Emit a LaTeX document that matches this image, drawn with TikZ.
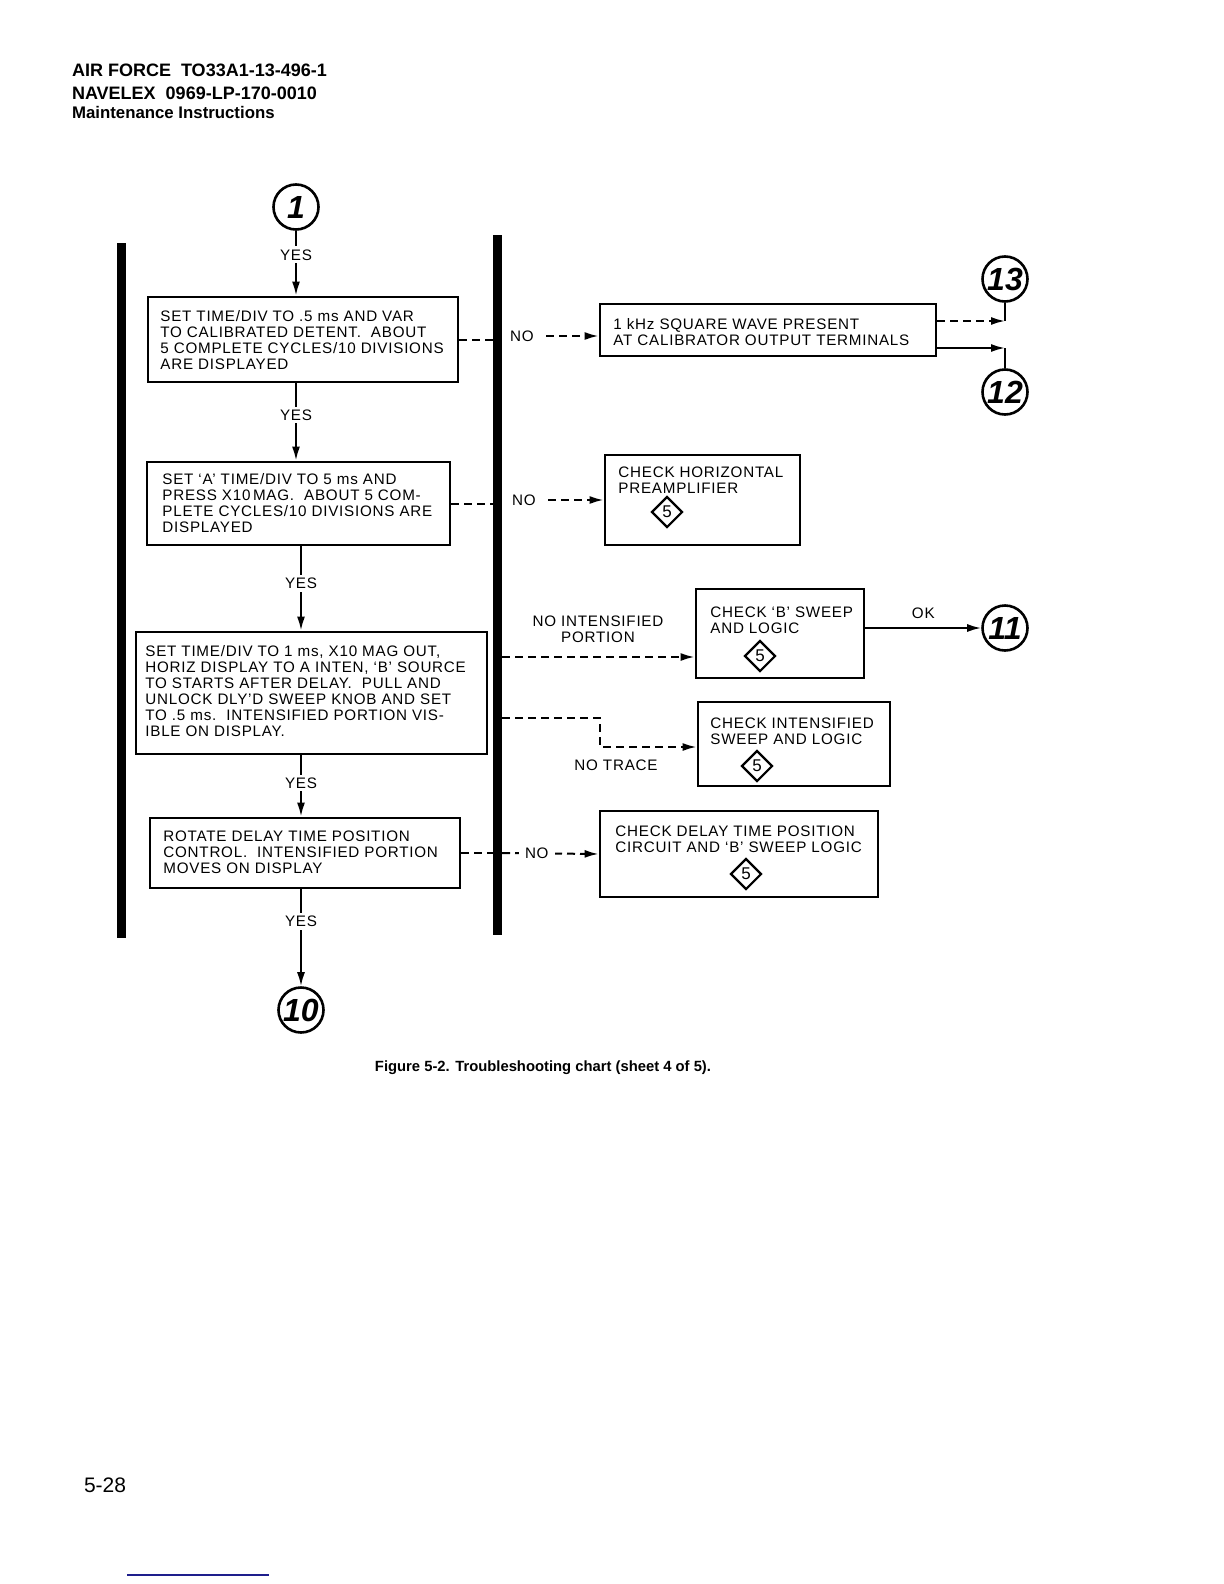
\documentclass[tikz,border=0pt]{standalone}
\usepackage{fontspec}
\setmainfont{Liberation Sans}
\newfontfamily\chartfont{Liberation Sans}[LetterSpace=5]
\usetikzlibrary{shapes.geometric,arrows.meta,positioning}
\definecolor{rulenavy}{RGB}{30,30,140}

\begin{document}
\begin{tikzpicture}[x=0.5pt,y=-0.5pt,
  box/.style={draw,line width=1.4pt,inner sep=0pt},
  txt/.style={align=left,inner sep=0pt,font=\chartfont\fontsize{7.6}{8}\selectfont},
  yes/.style={fill=white,inner sep=1.5pt,font=\chartfont\fontsize{7.6}{8}\selectfont},
  ref/.style={circle,draw,line width=1.3pt,minimum size=22.5pt,inner sep=0pt,font=\bfseries\itshape\fontsize{16}{16}\selectfont},
  sub/.style={diamond,draw,line width=1.1pt,minimum size=15.5pt,inner sep=0pt,font=\fontsize{8.5}{8.5}\selectfont},
  flow/.style={line width=1pt,-{Latex[length=7pt,width=4pt]}},
  nline/.style={line width=1pt,dash pattern=on 4pt off 2.5pt}]

\fill[white] (0,0) rectangle (1224,1584);
\useasboundingbox (0,0) rectangle (1224,1584);

%header
\node[anchor=base west,font=\bfseries\fontsize{9}{10}\selectfont] (hd1) at (65,77) {AIR FORCE\ \ TO33A1-13-496-1};
\node[anchor=base west,font=\bfseries\fontsize{9}{10}\selectfont] (hd2) at (65,99) {NAVELEX\ \ 0969-LP-170-0010};
\node[anchor=base west,font=\bfseries\fontsize{8.4}{10}\selectfont] (hd3) at (65,119) {Maintenance Instructions};

%bars
\coordinate (lbarT) at (121,243);
\coordinate (lbarB) at (121,938);
\coordinate (rbarT) at (497,235);
\coordinate (rbarB) at (497,935);
\coordinate (rbarL) at (493,0);
\coordinate (rbarR) at (502,0);
\draw [line width=4.5pt] (lbarT) -- (lbarB);
\draw [line width=4.5pt] (rbarT) -- (rbarB);

%main column
\node[ref] (c1) at (296,207) {1};
\node[box,minimum width=155pt,minimum height=42.5pt] (set1) at (303,339.5) {};
\node[txt,anchor=west] (set1t) at (160,340) {SET TIME/DIV TO .5 ms AND VAR\\TO CALIBRATED DETENT.\ \ ABOUT\\5 COMPLETE CYCLES/10 DIVISIONS\\ARE DISPLAYED};
\node[box,minimum width=151.5pt,minimum height=41.5pt] (set2) at (298.5,503.5) {};
\node[txt,anchor=west] (set2t) at (162,503) {SET ‘A’ TIME/DIV TO 5 ms AND\\PRESS X10\,MAG.\ \ ABOUT 5 COM-\\PLETE CYCLES/10 DIVISIONS ARE\\DISPLAYED};
\node[box,minimum width=175.5pt,minimum height=61pt] (set3) at (311.5,693) {};
\node[txt,anchor=west] (set3t) at (145,691) {SET TIME/DIV TO 1 ms, X10 MAG OUT,\\HORIZ DISPLAY TO A INTEN, ‘B’ SOURCE\\TO STARTS AFTER DELAY.\ \ PULL AND\\UNLOCK DLY’D SWEEP KNOB AND SET\\TO .5 ms.\ \ INTENSIFIED PORTION VIS-\\IBLE ON DISPLAY.};
\node[box,minimum width=155pt,minimum height=35pt] (set4) at (305,853) {};
\node[txt,anchor=west] (set4t) at (163,852) {ROTATE DELAY TIME POSITION\\CONTROL.\ \ INTENSIFIED PORTION\\MOVES ON DISPLAY};
\node[ref] (c10) at (301,1010) {10};

\draw [flow] (c1.south) -- node[yes,pos=0.37] {YES} (c1.south |- set1.north);
\draw [flow] (c1 |- set1.south) -- node[yes,pos=0.41] {YES} (c1 |- set2.north);
\draw [flow] (c10 |- set2.south) -- node[yes,pos=0.44] {YES} (c10 |- set3.north);
\draw [flow] (c10 |- set3.south) -- node[yes,pos=0.45] {YES} (c10 |- set4.north);
\draw [flow] (c10 |- set4.south) -- node[yes,pos=0.33] {YES} (c10.north);

\draw [nline] (set1.east) -- (set1.east -| rbarL);
\draw [nline] (set2.east) -- (set2.east -| rbarL);
\draw [nline] (set4.east) -- (set4.east -| rbarL);

%right column
\node[box,minimum width=168pt,minimum height=26pt] (khz) at (768,330) {};
\node[txt,anchor=west] (khzt) at (613,332) {1 kHz SQUARE WAVE PRESENT\\AT CALIBRATOR OUTPUT TERMINALS};
\node[box,minimum width=97.5pt,minimum height=45pt] (hpre) at (702.5,500) {};
\node[txt,anchor=west] (hpret) at (618,480) {CHECK HORIZONTAL\\PREAMPLIFIER};
\node[sub] (hpred) at (667,512) {5};
\node[box,minimum width=84pt,minimum height=44.5pt] (bswp) at (780,633.5) {};
\node[txt,anchor=west] (bswpt) at (710,620) {CHECK ‘B’ SWEEP\\AND LOGIC};
\node[sub] (bswpd) at (760,656) {5};
\node[box,minimum width=96pt,minimum height=42pt] (ints) at (794,744) {};
\node[txt,anchor=west] (intst) at (710,731) {CHECK INTENSIFIED\\SWEEP AND LOGIC};
\node[sub] (intsd) at (757,766) {5};
\node[box,minimum width=139pt,minimum height=43pt] (dly) at (739,854) {};
\node[txt,anchor=west] (dlyt) at (615,839) {CHECK DELAY TIME POSITION\\CIRCUIT AND ‘B’ SWEEP LOGIC};
\node[sub] (dlyd) at (746,874) {5};

\node[ref] (c13) at (1005,279) {13};
\node[ref] (c12) at (1005,392) {12};
\node[ref] (c11) at (1005,628) {11};

%no branches
\node[txt] (no1) at (522,336) {NO};
\draw [nline,flow] ([xshift=6pt]no1.east) -- (no1 -| khz.west);
\node[txt] (no2) at (524,500) {NO};
\draw [nline,flow] ([xshift=6pt]no2.east) -- (no2 -| hpre.west);
\node[txt,align=center] (nip) at (598,629) {NO INTENSIFIED\\PORTION};
\coordinate (int1) at (502,657);
\draw [nline,flow] (int1) -- (int1 -| bswp.west);
\coordinate (trc1) at (502,718);
\coordinate (trc2) at (600,747);
\draw [nline,flow] (trc1) -| (trc2) -- (trc2 -| ints.west);
\node[txt] (ntr) at (616,765) {NO TRACE};
\draw [nline,flow] (rbarR |- set4) -- node[yes,pos=0.36,inner xsep=3pt] {NO} (dly.west);

%exits
\coordinate (j13) at (1005,321);
\coordinate (j12) at (1005,348);
\draw [nline,flow] (khz.east |- j13) -- (j13);
\draw [line width=1pt] (j13) -- (c13.south);
\draw [flow] (khz.east |- j12) -- (j12);
\draw [line width=1pt] (j12) -- (c12.north);
\draw [flow] (bswp.east |- c11) -- node[txt,above=4pt] {OK} (c11.west);

%caption
\node[font=\bfseries\fontsize{7.4}{8}\selectfont] (cap) at (543,1068) {Figure 5-2. Troubleshooting chart (sheet 4 of 5).};
\node[anchor=west,font=\fontsize{10.5}{12}\selectfont] (pg) at (77,1485) {5-28};
\draw [rulenavy,line width=1pt] (127,1575) -- (269,1575);
\end{tikzpicture}
\end{document}
